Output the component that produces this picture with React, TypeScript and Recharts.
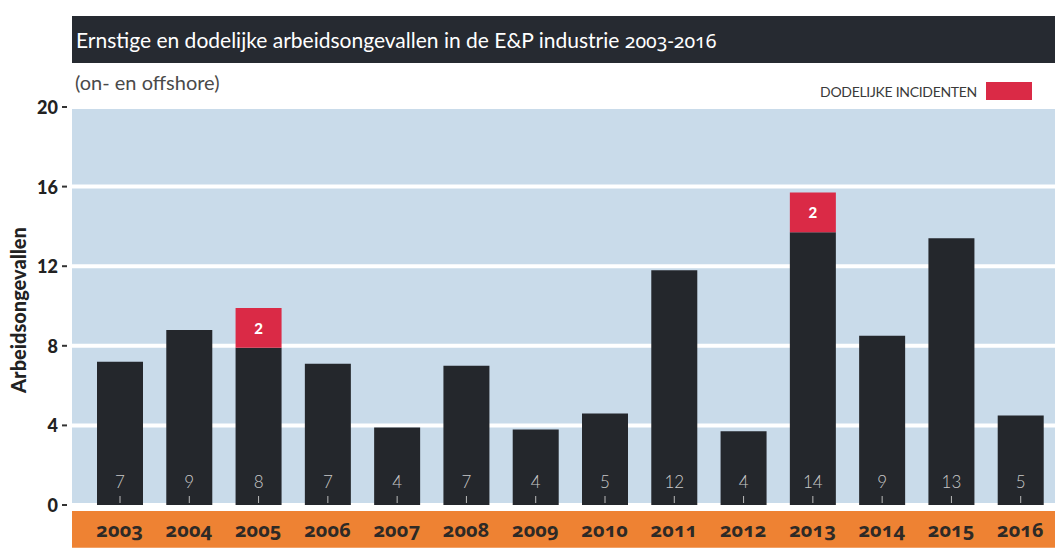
import { BarChart, Bar, XAxis, YAxis, CartesianGrid, ReferenceArea, LabelList } from 'recharts'

// jaren en waarden
const jaren = ['2003', '2004', '2005', '2006', '2007', '2008', '2009', '2010', '2011', '2012', '2013', '2014', '2015', '2016']
const ernstig = [7.2, 8.8, 7.9, 7.1, 3.9, 7.0, 3.8, 4.6, 11.8, 3.7, 13.7, 8.5, 13.4, 4.5]
const dodelijk = [0, 0, 2, 0, 0, 0, 0, 0, 0, 0, 2, 0, 0, 0]
const ernstigLabels = [7, 9, 8, 7, 4, 7, 4, 5, 12, 4, 14, 9, 13, 5]
const yTicks = [0, 4, 8, 12, 16, 20]

const data = jaren.map((jaar, i) => ({
  jaar,
  ernstig: ernstig[i],
  dodelijk: dodelijk[i] || null,
  label: ernstigLabels[i],
}))

const FONT = 'Lato, "Open Sans", sans-serif'
const NUMFONT = '"Noto Sans", Lato, sans-serif'
const DARK = '#24272c'
const RED = '#da2a46'

const YTick = ({ x, y, payload }: any) => (
  <g>
    <text x={x - 14} y={y} textAnchor="end" dominantBaseline="central" fontFamily={FONT} fontWeight={900} fontSize={18} fill="#222">
      {payload.value}
    </text>
    <line x1={x - 10} x2={x - 5} y1={y} y2={y} stroke="#333" strokeWidth={2} />
  </g>
)

const XTick = ({ x, y, payload }: any) => (
  <text x={x} y={y + 22} textAnchor="middle" dominantBaseline="central" fontFamily={NUMFONT} fontWeight={700} fontSize={20}
    fill="#2e2a26" style={{ fontVariantNumeric: 'oldstyle-nums', fontFeatureSettings: '"onum" 1' }}>
    {payload.value}
  </text>
)

const ErnstigLabel = (props: any) => {
  const { x, y, width, height, index } = props
  const cx = x + width / 2
  const bottom = y + height
  return (
    <g>
      <text x={cx} y={bottom - 24} textAnchor="middle" dominantBaseline="central" fontFamily={FONT} fontWeight={300} fontSize={17} fill="#c9c9c9">
        {ernstigLabels[index]}
      </text>
      <line x1={cx} x2={cx} y1={bottom - 9} y2={bottom - 2} stroke="#bbb" strokeWidth={1} />
    </g>
  )
}

const DodelijkLabel = (props: any) => {
  const { x, y, width, height, value } = props
  if (!value) return null
  return (
    <text x={x + width / 2} y={y + height / 2} textAnchor="middle" dominantBaseline="central" fontFamily={FONT} fontWeight={900} fontSize={15} fill="#fff">
      {value}
    </text>
  )
}

const YLabel = (props: any) => {
  const vb = props.viewBox
  const cx = vb.x + 18
  const cy = vb.y + vb.height / 2 + 4
  return (
    <text x={cx} y={cy} transform={`rotate(-90 ${cx} ${cy})`} textAnchor="middle" dominantBaseline="central" fontFamily={FONT} fontWeight={900} fontSize={20} fill="#222">
      Arbeidsongevallen
    </text>
  )
}

export default function App() {
  return (
    <div style={{ position: 'absolute', left: 0, top: 0, width: 1055, height: 550, background: '#fff', overflow: 'hidden', fontFamily: FONT }}>
      <div style={{ position: 'absolute', left: 72, top: 16, width: 983, height: 47, background: '#262a31', color: '#fff', fontSize: 21, lineHeight: '47px', paddingLeft: 4, boxSizing: 'border-box' }}>
        Ernstige en dodelijke arbeidsongevallen in de E&amp;P industrie{' '}
        <span style={{ fontFamily: NUMFONT, fontSize: 19.5, fontVariantNumeric: 'oldstyle-nums', fontFeatureSettings: '"onum" 1' }}>2003-2016</span>
      </div>
      <div style={{ position: 'absolute', left: 75, top: 70, fontSize: 20, color: '#4a4a4a' }}>(on- en offshore)</div>
      <div style={{ position: 'absolute', right: 23, top: 82, display: 'flex', alignItems: 'center', gap: 9 }}>
        <span style={{ fontSize: 14, color: '#3a3a3a', letterSpacing: -0.3 }}>DODELIJKE INCIDENTEN</span>
        <span style={{ display: 'inline-block', width: 46, height: 18, background: RED }} />
      </div>

      <BarChart width={1055} height={550} data={data} margin={{ top: 107, right: 0, left: 0, bottom: 0 }} barSize={46}>
        <CartesianGrid vertical={false} fill="#c9dbea" stroke="#ffffff" strokeWidth={4} />
        <XAxis dataKey="jaar" axisLine={false} tickLine={false} height={45} padding={{ left: 13, right: 0 }} tick={<XTick />} interval={0} tickSize={0} />
        <XAxis xAxisId="band" type="number" domain={[0, 1]} hide />
        <YAxis domain={[0, 20]} ticks={yTicks} width={72} axisLine={false} tickLine={false} tickSize={0} tickMargin={0} tick={<YTick />}
          label={{ content: <YLabel /> }} />
        <ReferenceArea xAxisId="band" y1={-0.3} y2={-2.15} ifOverflow="visible" fill="#ee8233" fillOpacity={1} stroke="none" />
        <Bar dataKey="ernstig" stackId="a" fill={DARK} isAnimationActive={false}>
          <LabelList dataKey="label" content={<ErnstigLabel />} />
        </Bar>
        <Bar dataKey="dodelijk" stackId="a" fill={RED} isAnimationActive={false}>
          <LabelList dataKey="dodelijk" content={<DodelijkLabel />} />
        </Bar>
      </BarChart>
    </div>
  )
}
